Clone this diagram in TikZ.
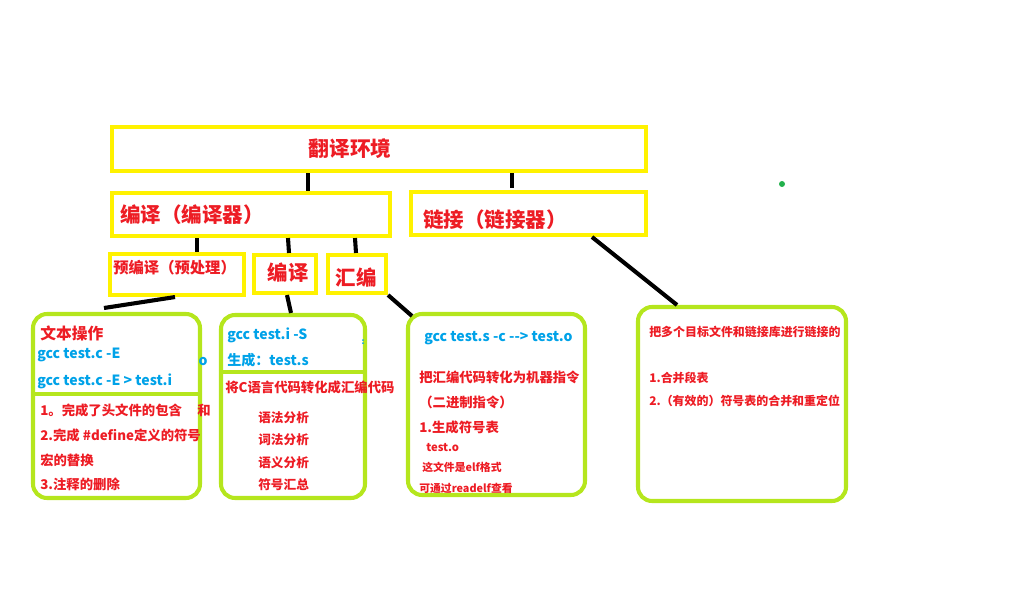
\documentclass[tikz,border=0pt]{standalone}
\usepackage{fontspec}
\setmainfont{Noto Sans CJK SC}
\usetikzlibrary{fit}
\definecolor{pred}{HTML}{ED1C24}
\definecolor{pblue}{HTML}{00A2E8}
\definecolor{pyellow}{HTML}{FFF200}
\definecolor{pgreen}{HTML}{B5E61D}
\definecolor{pdot}{HTML}{22B14C}
\newcommand\fsz[1]{\fontsize{#1}{#1}\selectfont}
\tikzset{
  ybox/.style={draw=pyellow, line width=2.9pt, inner sep=0pt},
  gbox/.style={draw=pgreen, line width=2.9pt, rounded corners=10pt, inner sep=0pt},
  gline/.style={draw=pgreen, line width=2.2pt},
  conn/.style={line width=2.9pt, black},
  rtxt/.style={text=pred, font=\bfseries\fsz{9.5}, inner sep=0pt, anchor=west},
  btxt/.style={text=pblue, font=\bfseries\fsz{10}, inner sep=0pt, anchor=west},
}
\begin{document}
\begin{tikzpicture}[x=0.025cm, y=-0.025cm]
\useasboundingbox (0,0) rectangle (1034,605);
% yellow boxes
\node[ybox, fit={(112,127) (646,171)}] (top) {};
\node[ybox, fit={(112,193) (390,236)}] (bian) {};
\node[ybox, fit={(411,192) (646,235)}] (lian) {};
\node[ybox, fit={(110,254) (244,295)}] (yu) {};
\node[ybox, fit={(254,255) (316,293)}] (by) {};
\node[ybox, fit={(328,255) (386,293)}] (hb) {};
\node[rtxt, anchor=center, font=\bfseries\fsz{14.7}] (ttop) at (350,149) {翻译环境};
\node[rtxt, font=\bfseries\fsz{14.6}] (tbian) at (120,215) {编译（编译器）};
\node[rtxt, font=\bfseries\fsz{14.6}] (tlian) at (423,220) {链接（链接器）};
\node[rtxt, font=\bfseries\fsz{10.9}] (tyu) at (113,268) {预编译（预处理）};
\node[rtxt, anchor=center, font=\bfseries\fsz{14.5}] (tby) at (288,273) {编译};
\node[rtxt, anchor=center, font=\bfseries\fsz{14.5}] (thb) at (356,278) {汇编};
% green boxes
\node[gbox, fit={(33,314) (200,498)}] (g1) {};
\node[gbox, fit={(221,315) (365,498)}] (g2) {};
\node[gbox, fit={(408,314) (585,495)}] (g3) {};
\node[gbox, fit={(638,307) (846,501)}] (g4) {};
\draw[gline] (g1.west |- 0,394) -- (g1.east |- 0,394);
\draw[gline] (g2.west |- 0,372) -- (g2.east |- 0,372);
% connectors
\draw[conn] (308,0 |- top.south) -- (308,0 |- bian.north);
\draw[conn] (512,0 |- top.south) -- (512,188);
\draw[conn] (197,0 |- bian.south) -- (197,0 |- yu.north);
\draw[conn] (288,0 |- bian.south) -- (289,0 |- by.north);
\draw[conn] (355,0 |- bian.south) -- (356,0 |- hb.north);
\draw[conn] (175,0 |- yu.south) -- (104,308);
\draw[conn] (287,0 |- by.south) -- (291,0 |- g2.north);
\draw[conn] (hb.south east) -- (412,316);
\draw[conn] (592,0 |- lian.south) -- (677,0 |- g4.north);
\fill[pdot] (782,184) circle (3);
% text of the first box
\node[rtxt, font=\bfseries\fsz{11.2}] (a0) at (40,333) {文本操作};
\node[btxt] (a1) at (37,355) {gcc test.c -E};
\node[btxt] (a2) at (37,381) {gcc test.c -E > test.i};
\node[btxt, anchor=center] (a3) at (203,361) {o};
\node[rtxt] (a4) at (40,410) {1。完成了头文件的包含};
\node[rtxt, anchor=center] (a5) at (204,410) {和};
\node[rtxt] (a6) at (40,435) {2.完成 \#define定义的符号};
\node[rtxt] (a7) at (40,460) {宏的替换};
\node[rtxt] (a8) at (40,484) {3.注释的删除};
% text of the second box
\node[btxt] (b1) at (227,335) {gcc test.i -S};
\node[btxt, anchor=center, font=\bfseries\fsz{6}] (b2) at (363,342) {:};
\node[btxt] (b3) at (227,360) {生成：test.s};
\node[rtxt] (b4) at (225,387) {将C语言代码转化成汇编代码};
\node[rtxt, font=\bfseries\fsz{9}] (b5) at (258,418) {语法分析};
\node[rtxt, font=\bfseries\fsz{9}] (b6) at (258,440) {词法分析};
\node[rtxt, font=\bfseries\fsz{9}] (b7) at (258,463) {语义分析};
\node[rtxt, font=\bfseries\fsz{9}] (b8) at (258,485) {符号汇总};
% text of the third box
\node[btxt] (c1) at (424,338) {gcc test.s -c -{}-{}> test.o};
\node[rtxt] (c2) at (419,377) {把汇编代码转化为机器指令};
\node[rtxt] (c3) at (419,402) {（二进制指令）};
\node[rtxt] (c4) at (419,427) {1.生成符号表};
\node[rtxt, font=\bfseries\fsz{8}] (c5) at (426,448) {test.o};
\node[rtxt, font=\bfseries\fsz{7.7}] (c6) at (422,467) {这文件是elf格式};
\node[rtxt, font=\bfseries\fsz{7.7}] (c7) at (419,488) {可通过readelf查看};
% text of the fourth box
\node[rtxt, font=\bfseries\fsz{8.5}] (d1) at (649,332) {把多个目标文件和链接库进行链接的};
\node[rtxt, font=\bfseries\fsz{8.5}] (d2) at (649,378) {1.合并段表};
\node[rtxt, font=\bfseries\fsz{8.5}] (d3) at (649,401) {2.（有效的）符号表的合并和重定位};
\end{tikzpicture}
\end{document}
